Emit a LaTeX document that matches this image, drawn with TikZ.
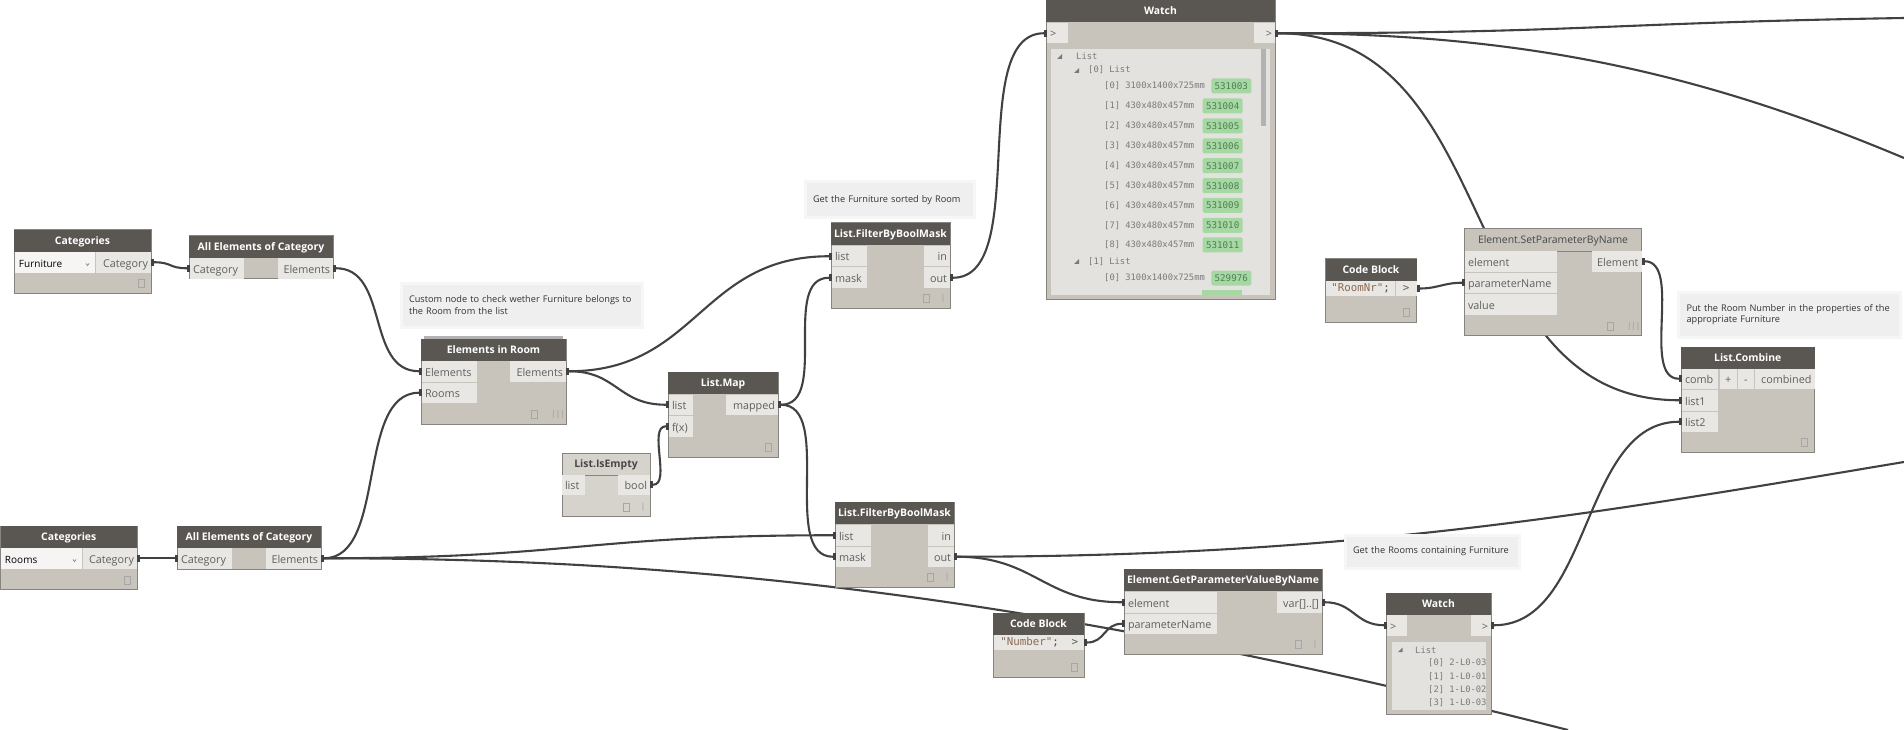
\documentclass[tikz,border=0pt]{standalone}
\usepackage{fontspec}
\setmainfont{Open Sans}
\setmonofont{DejaVu Sans Mono}
\usetikzlibrary{positioning, backgrounds}
\definecolor{headdark}{HTML}{5A5652}
\definecolor{bodyfill}{HTML}{C8C4BC}
\definecolor{bodypale}{HTML}{D6D3CC}
\definecolor{edgegray}{HTML}{86847F}
\definecolor{portfill}{HTML}{E9E7E3}
\definecolor{porttext}{HTML}{5F5F5F}
\definecolor{listfill}{HTML}{E4E2DE}
\definecolor{listtext}{HTML}{7A7A78}
\definecolor{idfill}{HTML}{A6D8A4}
\definecolor{idtext}{HTML}{4E7F52}
\definecolor{notefill}{HTML}{EFEFEF}
\definecolor{notehalo}{HTML}{F6F6F6}
\definecolor{wirecolor}{HTML}{414141}
\definecolor{codebrown}{HTML}{8C6A54}
\tikzset{
  nodebody/.style={anchor=north west,fill=bodyfill,draw=edgegray,line width=1pt,inner sep=0pt,outer sep=0pt},
  headbar/.style={anchor=north west,fill=headdark,text=white,inner sep=0pt,outer sep=0pt,minimum height=22pt,
    text height=8.5pt,text depth=1.5pt,minimum width=#1,font=\fontsize{10.4}{12}\selectfont\bfseries},
  headpale/.style={headbar=#1,fill=none,text=black!72},
  portin/.style={fill=portfill,text=porttext,inner xsep=3pt,inner ysep=0pt,outer sep=0pt,minimum height=20.5pt,
    text height=9.5pt,text depth=0pt,align=left,text width=#1,font=\fontsize{10.8}{12}\selectfont},
  portout/.style={portin=#1,align=right},
  coderow/.style={fill=portfill,inner sep=0pt,outer sep=0pt,minimum height=15pt,minimum width=#1,
    font=\ttfamily\fontsize{10.8}{12}\selectfont},
  dropbox/.style={fill=white!60!portfill,text=black,inner xsep=4pt,inner ysep=0pt,outer sep=0pt,minimum height=21pt,
    text height=9pt,text depth=0pt,align=left,text width=#1,font=\fontsize{10}{12}\selectfont},
  plug/.style={fill=wirecolor,inner sep=0pt,outer sep=0pt,minimum width=3pt,minimum height=7pt},
  wire/.style={draw=wirecolor,line width=2.1pt},
  noteback/.style={anchor=north west,fill=notefill,draw=notehalo,line width=3pt,inner xsep=8pt,inner ysep=0pt,
    align=left,font=\fontsize{9.2}{11.5}\selectfont,text=black!80},
  previewbox/.style={draw=black!35,line width=.7pt,inner sep=0pt,minimum width=6pt,minimum height=8pt},
  lacing/.style={text=black!40,inner sep=0pt,font=\fontsize{8}{8}\selectfont},
  listrow/.style={anchor=west,inner sep=0pt,text=listtext,font=\ttfamily\fontsize{8.8}{10}\selectfont},
  listid/.style={fill=idfill,text=idtext,rounded corners=1.5pt,inner sep=0pt,minimum width=40pt,minimum height=15pt,
    font=\ttfamily\fontsize{9.2}{10}\selectfont},
}
\begin{document}
\begin{tikzpicture}[x=1pt, y=-1pt, >=stealth]
  \useasboundingbox (0,0) rectangle (1904,730);

  % notes
  \node[noteback, minimum height=44pt, text width=225pt] (note-room) at (399.5,281.5)
    {Custom node to check wether Furniture belongs to\\the Room from the list};
  \node[noteback, minimum width=169pt, minimum height=36pt, text width=153pt] (note-sorted) at (803.5,180.5)
    {Get the Furniture sorted by Room};
  \node[noteback, minimum width=174pt, minimum height=33pt, text width=158pt] (note-rooms) at (1343.5,533.5)
    {Get the Rooms containing Furniture};
  \node[noteback, minimum width=222pt, minimum height=45pt, text width=206pt] (note-number) at (1677,290.5)
    {Put the Room Number in the properties of the\\appropriate Furniture};

  % categories, furniture
  \node[nodebody, minimum width=137pt, minimum height=63pt] (cat-f) at (14,230) {};
  \node[headbar=137pt] (cat-f-head) at (cat-f.north west) {Categories};
  \node[dropbox=72pt, below right=22pt and 1pt of cat-f.north west] (cat-f-drop) {Furniture};
  \node[portout=49pt, below left=22pt and 0pt of cat-f.north east] (cat-f-out) {Category};
  \node[plug, right=0pt of cat-f-out.east] (cat-f-outp) {};
  \node[previewbox, above left=5pt and 6.5pt of cat-f.south east] (cat-f-icon) {};
  \draw[black!50, line width=.7pt] ([xshift=-9pt,yshift=-1pt]cat-f-drop.east) -- ++(1.5,2) -- ++(1.5,-2);

  % all elements, furniture
  \node[nodebody, minimum width=144pt, minimum height=42.5pt] (all-f) at (189,236) {};
  \node[headbar=144pt] (all-f-head) at (all-f.north west) {All Elements of Category};
  \node[portin=48pt, below right=22pt and 1pt of all-f.north west] (all-f-in) {Category};
  \node[portout=49.5pt, below left=22pt and 0pt of all-f.north east] (all-f-out) {Elements};
  \node[plug, left=0pt of all-f-in.west] (all-f-inp) {};
  \node[plug, right=0pt of all-f-out.east] (all-f-outp) {};

  % categories, rooms
  \node[nodebody, minimum width=136.5pt, minimum height=63.5pt] (cat-r) at (.5,526) {};
  \node[headbar=136.5pt] (cat-r-head) at (cat-r.north west) {Categories};
  \node[dropbox=73pt, below right=22pt and .5pt of cat-r.north west] (cat-r-drop) {Rooms};
  \node[portout=48.5pt, below left=22pt and 0pt of cat-r.north east] (cat-r-out) {Category};
  \node[plug, right=0pt of cat-r-out.east] (cat-r-outp) {};
  \node[previewbox, above left=5pt and 6.5pt of cat-r.south east] (cat-r-icon) {};
  \draw[black!50, line width=.7pt] ([xshift=-9pt,yshift=-1pt]cat-r-drop.east) -- ++(1.5,2) -- ++(1.5,-2);

  % all elements, rooms
  \node[nodebody, minimum width=144pt, minimum height=43pt] (all-r) at (177,526) {};
  \node[headbar=144pt] (all-r-head) at (all-r.north west) {All Elements of Category};
  \node[portin=48pt, below right=22pt and 1pt of all-r.north west] (all-r-in) {Category};
  \node[portout=49.5pt, below left=22pt and 0pt of all-r.north east] (all-r-out) {Elements};
  \node[plug, left=0pt of all-r-in.west] (all-r-inp) {};
  \node[plug, right=0pt of all-r-out.east] (all-r-outp) {};

  % elements in room
  \node[nodebody, fill=black!30, draw=none, minimum width=139pt, minimum height=6pt] (room-stack) at (424,336) {};
  \node[nodebody, minimum width=145pt, minimum height=85pt] (room) at (421,339) {};
  \node[headbar=145pt] (room-head) at (room.north west) {Elements in Room};
  \node[portin=49pt, below right=22pt and 1pt of room.north west] (room-el) {Elements};
  \node[portin=49pt, below=1pt of room-el] (room-rooms) {Rooms};
  \node[portout=50pt, below left=22pt and 0pt of room.north east] (room-out) {Elements};
  \node[plug, left=0pt of room-el.west] (room-elp) {};
  \node[plug, left=0pt of room-rooms.west] (room-roomsp) {};
  \node[plug, right=0pt of room-out.east] (room-outp) {};
  \node[previewbox, above left=5pt and 28pt of room.south east] (room-icon) {};
  \node[lacing, above left=5pt and 1pt of room.south east] (room-lace) {|||};

  % list map
  \node[nodebody, minimum width=110pt, minimum height=85pt] (map) at (668,372) {};
  \node[headbar=110pt] (map-head) at (map.north west) {List.Map};
  \node[portin=18pt, below right=22.5pt and 1pt of map.north west] (map-list) {list};
  \node[portin=18pt, below=1pt of map-list] (map-fx) {f(x)};
  \node[portout=46pt, below left=22.5pt and 0pt of map.north east] (map-out) {mapped};
  \node[plug, left=0pt of map-list.west] (map-listp) {};
  \node[plug, left=0pt of map-fx.west] (map-fxp) {};
  \node[plug, right=0pt of map-out.east] (map-outp) {};
  \node[previewbox, above left=5pt and 6.5pt of map.south east] (map-icon) {};

  % list is empty
  \node[nodebody, fill=bodypale, minimum width=88pt, minimum height=63.5pt] (empty) at (562,453) {};
  \node[headpale=88pt] (empty-head) at (empty.north west) {List.IsEmpty};
  \draw[edgegray, line width=.7pt] (empty-head.south west) -- (empty-head.south east);
  \node[portin=17pt, below right=21.5pt and 0pt of empty.north west] (empty-list) {list};
  \node[portout=26pt, below left=21.5pt and 0pt of empty.north east] (empty-out) {bool};
  \node[plug, right=0pt of empty-out.east] (empty-outp) {};
  \node[previewbox, above left=5pt and 20pt of empty.south east] (empty-icon) {};
  \node[lacing, above left=5pt and 4.5pt of empty.south east] (empty-lace) {|};

  % filter, furniture
  \node[nodebody, minimum width=119pt, minimum height=85pt] (filter-f) at (831,223) {};
  \node[headbar=119pt] (filter-f-head) at (filter-f.north west) {List.FilterByBoolMask};
  \node[portin=29pt, below right=23pt and 1pt of filter-f.north west] (filter-f-list) {list};
  \node[portin=29pt, below=1pt of filter-f-list] (filter-f-mask) {mask};
  \node[portout=20pt, below left=23pt and 0pt of filter-f.north east] (filter-f-in) {in};
  \node[portout=20pt, below=1pt of filter-f-in] (filter-f-out) {out};
  \node[plug, left=0pt of filter-f-list.west] (filter-f-listp) {};
  \node[plug, left=0pt of filter-f-mask.west] (filter-f-maskp) {};
  \node[plug, right=0pt of filter-f-out.east] (filter-f-outp) {};
  \node[previewbox, above left=5pt and 20pt of filter-f.south east] (filter-f-icon) {};
  \node[lacing, above left=5pt and 4.5pt of filter-f.south east] (filter-f-lace) {|};

  % filter, rooms
  \node[nodebody, minimum width=119pt, minimum height=85pt] (filter-r) at (835,502) {};
  \node[headbar=119pt] (filter-r-head) at (filter-r.north west) {List.FilterByBoolMask};
  \node[portin=29pt, below right=23pt and 1pt of filter-r.north west] (filter-r-list) {list};
  \node[portin=29pt, below=1pt of filter-r-list] (filter-r-mask) {mask};
  \node[portout=20pt, below left=23pt and 0pt of filter-r.north east] (filter-r-in) {in};
  \node[portout=20pt, below=1pt of filter-r-in] (filter-r-out) {out};
  \node[plug, left=0pt of filter-r-list.west] (filter-r-listp) {};
  \node[plug, left=0pt of filter-r-mask.west] (filter-r-maskp) {};
  \node[plug, right=0pt of filter-r-out.east] (filter-r-outp) {};
  \node[previewbox, above left=5pt and 20pt of filter-r.south east] (filter-r-icon) {};
  \node[lacing, above left=5pt and 4.5pt of filter-r.south east] (filter-r-lace) {|};

  % get parameter
  \node[nodebody, minimum width=198pt, minimum height=85pt] (getpar) at (1124,569) {};
  \node[headbar=198pt] (getpar-head) at (getpar.north west) {Element.GetParameterValueByName};
  \node[portin=86pt, below right=23pt and 1pt of getpar.north west] (getpar-el) {element};
  \node[portin=86pt, below=1pt of getpar-el] (getpar-name) {parameterName};
  \node[portout=39pt, below left=23pt and 0pt of getpar.north east] (getpar-out) {var[]..[]};
  \node[plug, left=0pt of getpar-el.west] (getpar-elp) {};
  \node[plug, left=0pt of getpar-name.west] (getpar-namep) {};
  \node[plug, right=0pt of getpar-out.east] (getpar-outp) {};
  \node[previewbox, above left=5pt and 20pt of getpar.south east] (getpar-icon) {};
  \node[lacing, above left=5pt and 4.5pt of getpar.south east] (getpar-lace) {|};

  % code blocks
  \node[nodebody, minimum width=91pt, minimum height=64pt] (code-num) at (993,613) {};
  \node[headbar=91pt] (code-num-head) at (code-num.north west) {Code Block};
  \node[coderow=72pt, below right=22pt and .5pt of code-num.north west] (code-num-text)
    {\textcolor{codebrown}{"Number"}\textcolor{black!70}{;}};
  \node[coderow=18.5pt, below left=22pt and 0pt of code-num.north east, text=porttext] (code-num-out) {>};
  \node[plug, right=0pt of code-num-out.east] (code-num-outp) {};
  \node[previewbox, above left=5pt and 6.5pt of code-num.south east] (code-num-icon) {};

  \node[nodebody, minimum width=91pt, minimum height=63pt] (code-nr) at (1325.5,259) {};
  \node[headbar=91pt] (code-nr-head) at (code-nr.north west) {Code Block};
  \node[coderow=69pt, below right=22pt and .5pt of code-nr.north west] (code-nr-text)
    {\textcolor{codebrown}{"RoomNr"}\textcolor{black!70}{;}};
  \node[coderow=21pt, below left=22pt and 0pt of code-nr.north east, text=porttext] (code-nr-out) {>};
  \node[plug, right=0pt of code-nr-out.east] (code-nr-outp) {};
  \node[previewbox, above left=5pt and 6.5pt of code-nr.south east] (code-nr-icon) {};

  % set parameter
  \node[nodebody, minimum width=177pt, minimum height=106.5pt] (setpar) at (1464.5,229) {};
  \node[headpale=177pt] (setpar-head) at (setpar.north west) {\mdseries Element.SetParameterByName};
  \draw[edgegray, line width=.7pt] (setpar-head.south west) -- (setpar-head.south east);
  \node[portin=86pt, below right=22pt and .5pt of setpar.north west] (setpar-el) {element};
  \node[portin=86pt, below=1pt of setpar-el] (setpar-name) {parameterName};
  \node[portin=86pt, below=1pt of setpar-name] (setpar-val) {value};
  \node[portout=44pt, below left=22pt and 0pt of setpar.north east] (setpar-out) {Element};
  \node[plug, left=0pt of setpar-name.west] (setpar-namep) {};
  \node[plug, right=0pt of setpar-out.east] (setpar-outp) {};
  \node[previewbox, above left=5pt and 28pt of setpar.south east] (setpar-icon) {};
  \node[lacing, above left=5pt and 1pt of setpar.south east] (setpar-lace) {|||};

  % list combine
  \node[nodebody, minimum width=133.5pt, minimum height=105pt] (comb) at (1681,347) {};
  \node[headbar=133.5pt] (comb-head) at (comb.north west) {List.Combine};
  \node[portin=30pt, below right=21.5pt and 1pt of comb.north west] (comb-comb) {comb};
  \node[portin=30pt, below=1pt of comb-comb] (comb-one) {list1};
  \node[portin=30pt, below=1pt of comb-one] (comb-two) {list2};
  \node[portout=53.5pt, below left=21.5pt and 0pt of comb.north east] (comb-out) {combined};
  \node[portin=10.5pt, left=1pt of comb-out, align=center] (comb-minus) {-};
  \node[portin=10.5pt, left=1pt of comb-minus, align=center] (comb-plus) {+};
  \node[plug, left=0pt of comb-comb.west] (comb-combp) {};
  \node[plug, left=0pt of comb-one.west] (comb-onep) {};
  \node[plug, left=0pt of comb-two.west] (comb-twop) {};
  \node[previewbox, above left=5pt and 6.5pt of comb.south east] (comb-icon) {};

  % watch, furniture
  \node[nodebody, minimum width=229pt, minimum height=299pt] (watch) at (1046,0) {};
  \node[headbar=229pt, minimum height=22.5pt] (watch-head) at (watch.north west) {Watch};
  \node[portin=15pt, below right=23pt and 1pt of watch.north west] (watch-in) {>};
  \node[portout=15pt, below left=23pt and 0pt of watch.north east] (watch-out) {>};
  \node[plug, left=0pt of watch-in.west] (watch-inp) {};
  \node[plug, right=0pt of watch-out.east] (watch-outp) {};
  \node[nodebody, fill=listfill, draw=none, minimum width=219pt, minimum height=246pt] (watch-list) at (1051,49) {};
  \node[nodebody, fill=black!30, draw=none, minimum width=5pt, minimum height=77pt] (watch-bar) at (1261,49) {};
  \fill[listtext] (1057,59) -- ++(5,-5) -- ++(0,5) -- cycle;
  \node[listrow] (w-top) at (1076,56.5) {List};
  \fill[listtext] (1074,73) -- ++(5,-5) -- ++(0,5) -- cycle;
  \node[listrow] (w-a) at (1088,70) {[0] List};
  \node[listrow] (w-a0) at (1104,86) {[0] 3100x1400x725mm};
  \node[listid, right=6pt of w-a0] (w-a0id) {531003};
  \node[listrow] (w-a1) at (1104,106) {[1] 430x480x457mm};
  \node[listid, right=8pt of w-a1] (w-a1id) {531004};
  \node[listrow] (w-a2) at (1104,126) {[2] 430x480x457mm};
  \node[listid, right=8pt of w-a2] (w-a2id) {531005};
  \node[listrow] (w-a3) at (1104,146) {[3] 430x480x457mm};
  \node[listid, right=8pt of w-a3] (w-a3id) {531006};
  \node[listrow] (w-a4) at (1104,165.7) {[4] 430x480x457mm};
  \node[listid, right=8pt of w-a4] (w-a4id) {531007};
  \node[listrow] (w-a5) at (1104,185.7) {[5] 430x480x457mm};
  \node[listid, right=8pt of w-a5] (w-a5id) {531008};
  \node[listrow] (w-a6) at (1104,205.3) {[6] 430x480x457mm};
  \node[listid, right=8pt of w-a6] (w-a6id) {531009};
  \node[listrow] (w-a7) at (1104,225.3) {[7] 430x480x457mm};
  \node[listid, right=8pt of w-a7] (w-a7id) {531010};
  \node[listrow] (w-a8) at (1104,245) {[8] 430x480x457mm};
  \node[listid, right=8pt of w-a8] (w-a8id) {531011};
  \fill[listtext] (1074,264) -- ++(5,-5) -- ++(0,5) -- cycle;
  \node[listrow] (w-b) at (1088,261.7) {[1] List};
  \node[listrow] (w-b0) at (1104,278) {[0] 3100x1400x725mm};
  \node[listid, right=6pt of w-b0] (w-b0id) {529976};
  \node[nodebody, fill=idfill, draw=none, minimum width=40pt, minimum height=5pt] (w-b1id) at (1202,290) {};

  % watch, rooms
  \node[nodebody, minimum width=105pt, minimum height=121pt] (watch-r) at (1386,593) {};
  \node[headbar=105pt] (watch-r-head) at (watch-r.north west) {Watch};
  \node[portin=14pt, below right=22pt and 1pt of watch-r.north west] (watch-r-in) {>};
  \node[portout=14pt, below left=22pt and 0pt of watch-r.north east] (watch-r-out) {>};
  \node[plug, left=0pt of watch-r-in.west] (watch-r-inp) {};
  \node[plug, right=0pt of watch-r-out.east] (watch-r-outp) {};
  \node[nodebody, fill=listfill, draw=none, minimum width=94.5pt, minimum height=68pt] (watch-r-list) at (1391.5,642) {};
  \fill[listtext] (1398,652) -- ++(4.5,-4.5) -- ++(0,4.5) -- cycle;
  \node[listrow] (r-top) at (1415,650) {List};
  \node[listrow] (r-0) at (1428,663) {[0] 2-L0-03};
  \node[listrow] (r-1) at (1428,676.5) {[1] 1-L0-01};
  \node[listrow] (r-2) at (1428,689.5) {[2] 1-L0-02};
  \node[listrow] (r-3) at (1428,703) {[3] 1-L0-03};

  % free ends of the wires
  \coordinate (edge-top) at (1904,18);
  \coordinate (edge-mid) at (1904,158);
  \coordinate (edge-low) at (1904,462);
  \coordinate (edge-bot) at (1568,730);

  \begin{scope}[on background layer]
    \draw[wire] (cat-f-outp) .. controls +(20,0) and +(-20,0) .. (all-f-inp);
    \draw[wire] (cat-r-outp) .. controls +(20,0) and +(-20,0) .. (all-r-inp);
    \draw[wire] (all-f-outp) .. controls +(55,0) and +(-55,0) .. (room-elp);
    \draw[wire] (all-r-outp) .. controls +(65,0) and +(-65,0) .. (room-roomsp);
    \draw[wire] (all-r-outp) .. controls +(250,0) and +(-250,0) .. (filter-r-listp);
    \draw[wire] (all-r-outp) .. controls +(379,0) and +(-518,-132) .. (edge-bot);
    \draw[wire] (room-outp) .. controls +(130,0) and +(-130,0) .. (filter-f-listp);
    \draw[wire] (room-outp) .. controls +(50,0) and +(-50,0) .. (map-listp);
    \draw[wire] (empty-outp) .. controls +(20,0) and +(-20,0) .. (map-fxp);
    \draw[wire] (map-outp) .. controls +(50,0) and +(-50,0) .. (filter-f-maskp);
    \draw[wire] (map-outp) .. controls +(55,0) and +(-55,0) .. (filter-r-maskp);
    \draw[wire] (filter-f-outp) .. controls +(80,0) and +(-80,0) .. (watch-inp);
    \draw[wire] (filter-r-outp) .. controls +(400,0) and +(-300,50) .. (edge-low);
    \draw[wire] (filter-r-outp) .. controls +(80,0) and +(-80,0) .. (getpar-elp);
    \draw[wire] (code-num-outp) .. controls +(20,0) and +(-20,0) .. (getpar-namep);
    \draw[wire] (getpar-outp) .. controls +(30,0) and +(-30,0) .. (watch-r-inp);
    \draw[wire] (watch-r-outp) .. controls +(100,0) and +(-100,0) .. (comb-twop);
    \draw[wire] (watch-outp) .. controls +(300,0) and +(-300,5) .. (edge-top);
    \draw[wire] (watch-outp) .. controls +(250,0) and +(-200,-84) .. (edge-mid);
    \draw[wire] (watch-outp) .. controls +(230,0) and +(-230,0) .. (comb-onep);
    \draw[wire] (code-nr-outp) .. controls +(20,0) and +(-20,0) .. (setpar-namep);
    \draw[wire] (setpar-outp) .. controls +(40,0) and +(-40,0) .. (comb-combp);
  \end{scope}
\end{tikzpicture}
\end{document}
